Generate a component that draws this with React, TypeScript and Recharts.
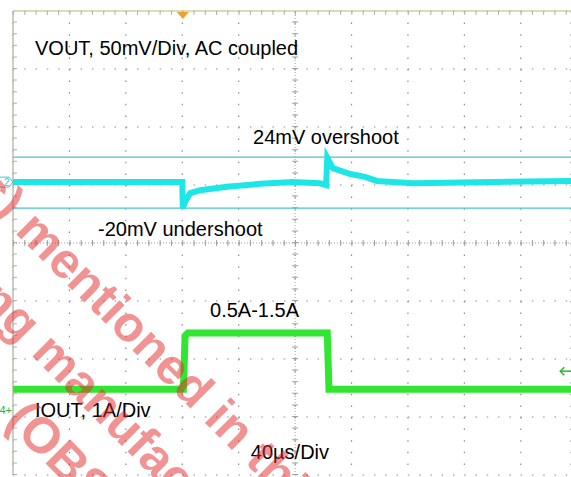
import React from 'react';
import { ComposedChart, Line, XAxis, YAxis, CartesianGrid, ReferenceLine, ReferenceDot } from 'recharts';

// scope screen in divisions: 10 across (the picture crops the last bit), 8 down
const xDomain: [number, number] = [0, 9.89];
const yDomain: [number, number] = [-4, 4];
const majorX = [0, 1, 2, 3, 4, 5, 6, 7, 8, 9];
const majorY = [-4, -3, -2, -1, 0, 1, 2, 3, 4];

// CH2 VOUT (divisions)
const vout = [
  { t: 0, v: 1.05 },
  { t: 3.0, v: 1.05 },
  { t: 3.01, v: 0.6 },
  { t: 3.05, v: 0.71 },
  { t: 3.14, v: 0.86 },
  { t: 3.32, v: 0.91 },
  { t: 3.79, v: 0.97 },
  { t: 4.38, v: 1.02 },
  { t: 4.96, v: 1.05 },
  { t: 5.44, v: 1.03 },
  { t: 5.55, v: 1.0 },
  { t: 5.57, v: 1.47 },
  { t: 5.67, v: 1.29 },
  { t: 5.98, v: 1.19 },
  { t: 6.24, v: 1.14 },
  { t: 6.45, v: 1.07 },
  { t: 7.09, v: 1.03 },
  { t: 9.89, v: 1.07 },
];

// CH4 IOUT (divisions)
const iout = [
  { t: 0, i: -2.52 },
  { t: 3.02, i: -2.52 },
  { t: 3.05, i: -1.6 },
  { t: 3.1, i: -1.55 },
  { t: 5.57, i: -1.55 },
  { t: 5.6, i: -2.52 },
  { t: 9.89, i: -2.52 },
];

const cursorHigh = 1.48;
const cursorLow = 0.6;
const triggerT = 3.01;
const ch2Level = 1.05;
const ch4Level = -2.88;
const trigLevel = -2.21;
// tick rows just inside the top and left border
const topTickRow = 3.965;
const leftTickCol = 0.035;

const labels = [
  { text: 'VOUT, 50mV/Div, AC coupled', t: 0.39, y: 3.24 },
  { text: '24mV overshoot', t: 4.255, y: 1.71 },
  { text: '-20mV undershoot', t: 1.507, y: 0.12 },
  { text: '0.5A-1.5A', t: 3.493, y: -1.27 },
  { text: 'IOUT, 1A/Div', t: 0.39, y: -3.0 },
  { text: '40µs/Div', t: 4.215, y: -3.72 },
];

const wmLines = [
  { lead: 'Product(s)', rest: 'mentioned in this document', x: 14, y: 232 },
  { lead: 'no longer being', rest: 'manufactured', x: 30, y: 354 },
  { lead: '', rest: '(OBSOLETE)', x: 4, y: 422 },
];

const CYAN = '#1ee6e6';
const GREEN = '#30e630';
const GRID = '#8c8c8c';
const FONT = 'Liberation Sans, Arial, sans-serif';

const blank = () => <g />;

const textShape = (text: string) => (p: any) => (
  <text x={p.cx} y={p.cy} fontSize={20} fill="#000" fontFamily={FONT}>{text}</text>
);

const App: React.FC = () => {
  return (
    <div style={{ position: 'relative', width: 571, height: 477, background: '#fff' }}>
      <style>{'body{margin:0}'}</style>
      <ComposedChart width={571} height={477} margin={{ top: 11, right: 0, bottom: 2, left: 13 }}>
        <XAxis type="number" dataKey="t" domain={xDomain} ticks={majorX} allowDataOverflow
          axisLine={false} tickLine={false} tick={blank} height={0} interval={0} />
        <YAxis type="number" domain={yDomain} ticks={majorY}
          axisLine={false} tickLine={false} tick={blank} width={0} interval={0} />

        <CartesianGrid vertical={false} stroke={GRID} strokeWidth={1.2} strokeDasharray="1.5 9.78" />
        <CartesianGrid horizontal={false} stroke={GRID} strokeWidth={1.2} strokeDasharray="1.5 10.1" />

        {/* screen border with minor ticks */}
        <ReferenceLine y={4} stroke="#cfd2a0" strokeWidth={1.5} />
        <ReferenceLine y={topTickRow} stroke="#b0b0b0" strokeWidth={4} strokeDasharray="1 10.28" />
        <ReferenceLine x={0} stroke="#bcbcb0" strokeWidth={1.5} />
        <ReferenceLine x={leftTickCol} stroke="#b0b0b0" strokeWidth={4} strokeDasharray="1 10.6" />

        {/* center graticule */}
        <ReferenceLine x={5} stroke="#a0a0a0" strokeDasharray="1 2" />
        <ReferenceLine x={5} stroke="#a0a0a0" strokeWidth={6} strokeDasharray="1 10.6" />
        <ReferenceLine y={0} stroke="#a0a0a0" strokeDasharray="1 2" />
        <ReferenceLine y={0} stroke="#a0a0a0" strokeWidth={6} strokeDasharray="1 10.28" />

        <ReferenceLine y={cursorHigh} stroke="#4cc4c4" strokeWidth={1.3} />
        <ReferenceLine y={cursorLow} stroke="#4cc4c4" strokeWidth={1.3} />

        <Line data={vout} dataKey="v" type="linear" dot={false} stroke={CYAN} strokeWidth={6}
          isAnimationActive={false} />
        <Line data={iout} dataKey="i" type="linear" dot={false} stroke={GREEN} strokeWidth={7}
          isAnimationActive={false} />

        <ReferenceDot x={triggerT} y={4} shape={(p: any) => (
          <path d={`M${p.cx - 6},${p.cy + 1} L${p.cx + 6},${p.cy + 1} L${p.cx},${p.cy + 8} Z`} fill="#f0a030" />
        )} />
        <ReferenceDot x={0} y={ch2Level} shape={(p: any) => (
          <g>
            <path d={`M${p.cx - 16},${p.cy - 5} L${p.cx - 4},${p.cy - 5} L${p.cx},${p.cy} L${p.cx - 4},${p.cy + 5} L${p.cx - 16},${p.cy + 5}`}
              fill="none" stroke="#40c8c8" strokeWidth={1} />
            <text x={p.cx - 9} y={p.cy + 4} fontSize={10} fill="#40c8c8" fontFamily={FONT}>2</text>
          </g>
        )} />
        <ReferenceDot x={0} y={ch4Level} shape={(p: any) => (
          <text x={p.cx - 1} y={p.cy + 4} fontSize={11} fill="#30b030" fontFamily={FONT} textAnchor="end">4+</text>
        )} />
        <ReferenceDot x={9.7} y={trigLevel} shape={(p: any) => (
          <g stroke="#2ab82a" strokeWidth={1.5} fill="none">
            <path d={`M${p.cx},${p.cy} L${p.cx + 14},${p.cy}`} />
            <path d={`M${p.cx + 4},${p.cy - 4} L${p.cx},${p.cy} L${p.cx + 4},${p.cy + 4}`} />
          </g>
        )} />

        {labels.map((l) => (
          <ReferenceDot key={l.text} x={l.t} y={l.y} shape={textShape(l.text)} />
        ))}
      </ComposedChart>

      <svg width={571} height={477} style={{ position: 'absolute', left: 0, top: 0, pointerEvents: 'none' }}>
        {wmLines.map((w) => (
          <g key={w.rest} transform={`rotate(45 ${w.x} ${w.y})`} fill="rgba(230,40,40,0.5)"
            fontFamily={FONT} fontWeight="bold" fontSize={50}>
            {w.lead && <text x={w.x - 14} y={w.y} textAnchor="end">{w.lead}</text>}
            <text x={w.x} y={w.y}>{w.rest}</text>
          </g>
        ))}
      </svg>
    </div>
  );
};

export default App;
